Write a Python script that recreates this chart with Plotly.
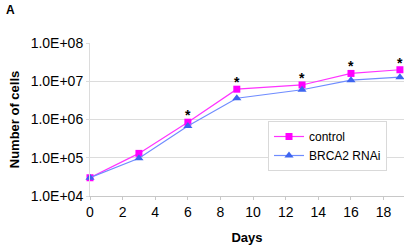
import math
import plotly.graph_objects as go

days = [0, 3, 6, 9, 13, 16, 19]
control = [3.0e4, 1.3e5, 8.5e5, 6.2e6, 8.0e6, 1.6e7, 2.0e7]
brca2 = [3.0e4, 9.7e4, 6.8e5, 3.6e6, 6.0e6, 1.07e7, 1.28e7]
sig_days = [6, 9, 13, 16, 19]
x_ticks = [0, 2, 4, 6, 8, 10, 12, 14, 16, 18]
y_ticks = [1e4, 1e5, 1e6, 1e7, 1e8]
y_tick_labels = ["1.0E+04", "1.0E+05", "1.0E+06", "1.0E+07", "1.0E+08"]

FONT = "Liberation Sans, Arial, sans-serif"

fig = go.Figure()
fig.add_trace(go.Scatter(
    x=days, y=control, name="control", mode="lines+markers",
    line=dict(color="#ff33ff", width=1.2),
    marker=dict(symbol="square", size=7, color="#ff00ff"),
    cliponaxis=False,
))
fig.add_trace(go.Scatter(
    x=days, y=brca2, name="BRCA2 RNAi", mode="lines+markers",
    line=dict(color="#6f8cff", width=1.2),
    marker=dict(symbol="triangle-up", size=8, color="#3d64f0"),
    cliponaxis=False,
))

for d, v in zip(days, control):
    if d in sig_days:
        fig.add_annotation(x=d, y=math.log10(v), xref="x", yref="y", text="<b>*</b>", showarrow=False,
                           yshift=7, font=dict(family=FONT, size=14, color="black"))

fig.add_annotation(x=-86/314, y=1 + 33/153, xref="paper", yref="paper", text="<b>A</b>",
                   showarrow=False, xanchor="left", yanchor="middle",
                   font=dict(family=FONT, size=12, color="black"))

fig.update_layout(
    width=404, height=249,
    margin=dict(l=90, r=0, t=43, b=53, autoexpand=False),
    paper_bgcolor="white", plot_bgcolor="white",
    font=dict(family=FONT, size=14, color="black"),
    showlegend=True,
    legend=dict(x=(268-90)/314, y=(196-121)/153, xanchor="left", yanchor="top",
                bordercolor="#d9d9d9", borderwidth=1, bgcolor="white",
                font=dict(size=12), itemwidth=30, tracegroupgap=0),
    xaxis=dict(range=[0, 19.25], tickvals=x_ticks, showgrid=False, zeroline=False,
               showline=True, linecolor="#c8c8c8", linewidth=1, automargin=False,
               ticks="outside", ticklen=3, tickcolor="#c8c8c8",
               tickfont=dict(size=14),
               title=dict(text="<b>Days</b>", font=dict(size=13), standoff=14)),
    yaxis=dict(type="log", range=[4, 8], tickvals=y_ticks, ticktext=y_tick_labels,
               showgrid=True, gridcolor="#dcdcdc", gridwidth=1, zeroline=False,
               showline=True, linecolor="#dcdcdc", linewidth=1, automargin=False,
               ticks="outside", ticklen=3, tickcolor="#dcdcdc",
               tickfont=dict(size=14),
               title=dict(text="<b>Number of cells</b>", font=dict(size=13), standoff=8)),
)

fig.write_html("out.html", config={"displayModeBar": False},
               post_script="document.body.style.margin='0';document.documentElement.style.overflow='hidden';")
